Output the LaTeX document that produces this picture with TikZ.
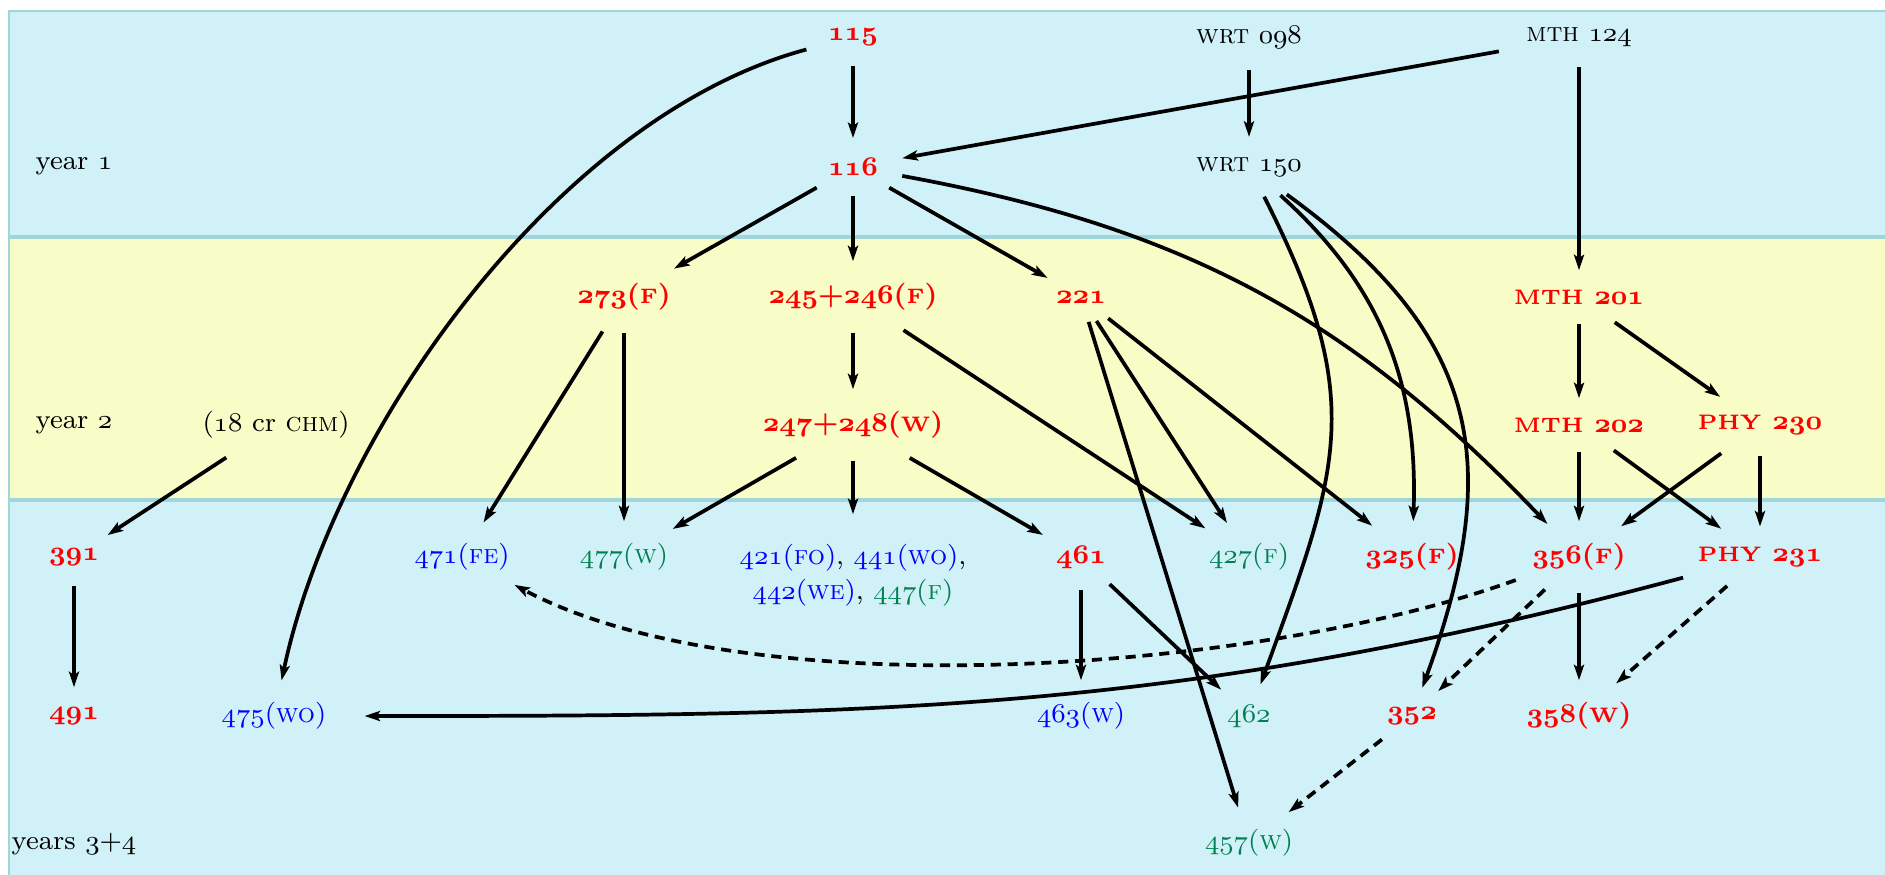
\documentclass[tikz,border=0pt]{standalone}
\usepackage{tikz}
\usetikzlibrary{arrows.meta,shapes.geometric}
\definecolor{bandblue}{RGB}{209,241,249}
\definecolor{bandyellow}{RGB}{248,252,198}
\definecolor{bandline}{RGB}{160,214,218}
\definecolor{optgreen}{RGB}{0,128,80}
\newcommand{\osn}[1]{{\fontencoding{OML}\fontfamily{cmm}\fontshape{it}\selectfont #1}}
\newcommand{\bsc}[1]{{\fontsize{6.2}{7}\selectfont #1}}

\begin{document}
\begin{tikzpicture}[x=1.04cm, y=1.04cm, every node/.style={ellipse, font=\footnotesize},
        core/.style={text=red, font=\footnotesize\bfseries},
        elec/.style={text=blue},
        opt/.style={text=optgreen},
        prereq/.style={->, line width=1.1pt},
        advised/.style={->, line width=1.1pt, dash pattern=on 3pt off 2pt},
        >={Stealth[length=4.6pt, width=3pt, inset=1pt]}]
        \useasboundingbox (0,0) rectangle (18.85,-8.74);
        \filldraw[fill=bandblue, draw=bandline, line width=0.6pt] (0.086,-0.11) rectangle (19.2,-2.36);
        \filldraw[fill=bandyellow, draw=bandline, line width=0.6pt] (0.086,-2.38) rectangle (19.2,-4.99);
        \filldraw[fill=bandblue, draw=bandline, line width=0.6pt] (0.086,-5.01) rectangle (19.2,-9.0);

		\node (yr1)at(0.74,-1.66) {year \osn{1}};
		\node (yr2)at(0.74,-4.25) {year \osn{2}};
		\node (yr34)at(0.74,-8.44) {years \osn{3}+\osn{4}};

		\node[core] (c115)at(8.53,-0.37) {\osn{115}};
		\node (w098)at(12.49,-0.37) {\textsc{wrt} \osn{098}};
		\node (m124)at(15.79,-0.37) {\textsc{mth} \osn{124}};

		\node[core] (c116)at(8.53,-1.67) {\osn{116}};
		\node (w150)at(12.49,-1.67) {\textsc{wrt} \osn{150}};

		\node[core] (c273)at(6.24,-2.97) {\osn{273}(\bsc{F})};
		\node[core] (c245)at(8.53,-2.97) {\osn{245}+\osn{246}(\bsc{F})};
		\node[core] (c221)at(10.81,-2.97) {\osn{221}};
		\node[core] (m201)at(15.79,-2.97) {\bsc{MTH} \osn{201}};

		\node (chm)at(2.76,-4.25) {(\osn{18} cr \textsc{chm})};
		\node[core] (c247)at(8.53,-4.25) {\osn{247}+\osn{248}(\bsc{W})};
		\node[core] (m202)at(15.79,-4.25) {\bsc{MTH} \osn{202}};
		\node[core] (p230)at(17.60,-4.25) {\bsc{PHY} \osn{230}};

		\node[core] (c391)at(0.74,-5.57) {\osn{391}};
		\node[elec] (c471)at(4.62,-5.57) {\osn{471}(\textsc{fe})};
		\node[opt] (c477)at(6.24,-5.57) {\osn{477}(\textsc{w})};
		\node[align=center] (c421)at(8.53,-5.75) {\textcolor{blue}{\osn{421}(\textsc{fo})}, \textcolor{blue}{\osn{441}(\textsc{wo})},\\[1pt]
			\textcolor{blue}{\osn{442}(\textsc{we})}, \textcolor{optgreen}{\osn{447}(\textsc{f})}};
		\node[core] (c461)at(10.81,-5.57) {\osn{461}};
		\node[opt] (c427)at(12.49,-5.57) {\osn{427}(\textsc{f})};
		\node[core] (c325)at(14.12,-5.57) {\osn{325}(\bsc{F})};
		\node[core] (c356)at(15.79,-5.57) {\osn{356}(\bsc{F})};
		\node[core] (p231)at(17.60,-5.57) {\bsc{PHY} \osn{231}};

		\node[core] (c491)at(0.74,-7.16) {\osn{491}};
		\node[elec] (c475)at(2.74,-7.16) {\osn{475}(\textsc{wo})};
		\node[elec] (c463)at(10.81,-7.16) {\osn{463}(\textsc{w})};
		\node[opt] (c462)at(12.49,-7.16) {\osn{462}};
		\node[core] (c352)at(14.12,-7.16) {\osn{352}};
		\node[core] (c358)at(15.79,-7.16) {\osn{358}(\bsc{W})};

		\node[opt] (c457)at(12.49,-8.43) {\osn{457}(\textsc{w})};

		\draw[prereq] (c115) -- (c116);
		\draw[prereq] (c115) to[out=195,in=78,looseness=0.8] (c475);
		\draw[prereq] (m124) -- (c116);
		\draw[prereq] (w098) -- (w150);
		\draw[prereq] (m124) -- (m201);
		\draw[prereq] (c116) -- (c273);
		\draw[prereq] (c116) -- (c245);
		\draw[prereq] (c116) -- (c221);
		\draw[prereq] (c116) to[bend left=18] (c356);
		\draw[prereq] (w150) to[out=-63,in=70,looseness=1.2] (c462);
		\draw[prereq] (w150) to[out=-42,in=88] (c325);
		\draw[prereq] (w150) to[out=-36,in=70,looseness=1.2] (c352);
		\draw[prereq] (c273) -- (c471);
		\draw[prereq] (c273) -- (c477);
		\draw[prereq] (c245) -- (c247);
		\draw[prereq] (c245) -- (c427);
		\draw[prereq] (c221) -- (c427);
		\draw[prereq] (c221) -- (c325);
		\draw[prereq] (c221) -- (c457);
		\draw[prereq] (m201) -- (m202);
		\draw[prereq] (m201) -- (p230);
		\draw[prereq] (chm) -- (c391);
		\draw[prereq] (c247) -- (c477);
		\draw[prereq] (c247) -- (c421);
		\draw[prereq] (c247) -- (c461);
		\draw[prereq] (m202) -- (c356);
		\draw[prereq] (m202) -- (p231);
		\draw[prereq] (p230) -- (c356);
		\draw[prereq] (p230) -- (p231);
		\draw[prereq] (c391) -- (c491);
		\draw[prereq] (c356) -- (c358);
		\draw[prereq] (c461) -- (c463);
		\draw[prereq] (c461) -- (c462);
		\draw[prereq] (p231) to[out=195,in=0] (c475);

		\draw[advised] (c356) to[out=200,in=-28,looseness=0.68] (c471);
		\draw[advised] (c356) -- (c352);
		\draw[advised] (p231) -- (c358);
		\draw[advised] (c352) -- (c457);
\end{tikzpicture}
\end{document}
